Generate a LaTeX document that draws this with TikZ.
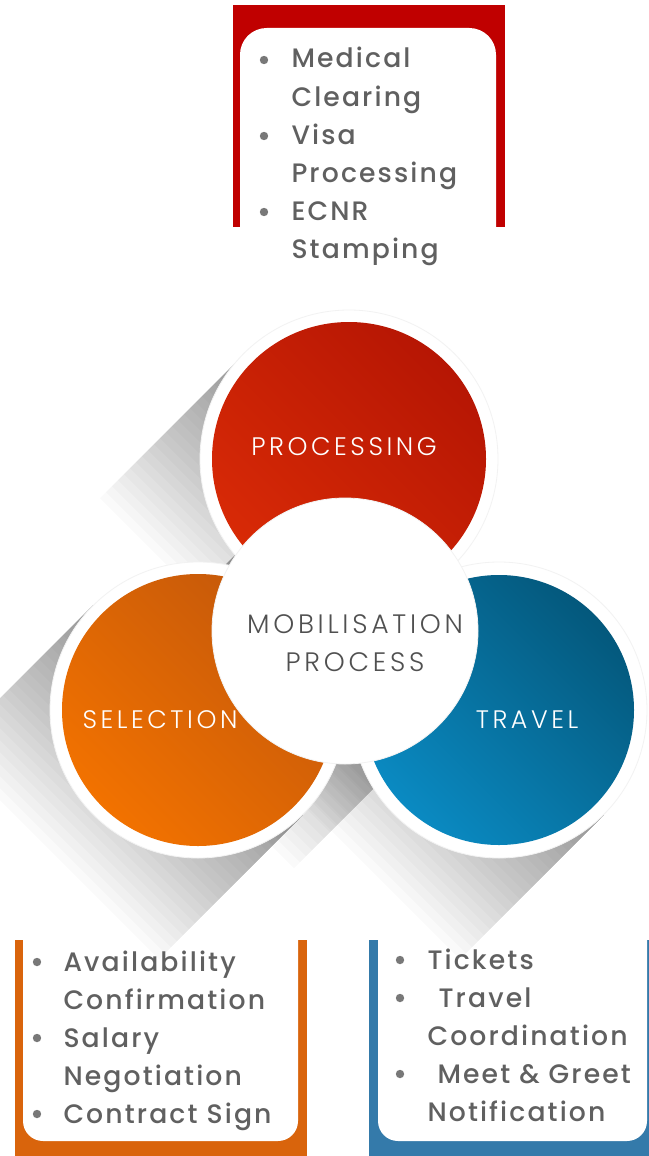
\documentclass[tikz,border=0pt]{standalone}
\usepackage{fontspec}
\setmainfont{Poppins Medium}[LetterSpace=8]
\newfontfamily\labelfont{Poppins Light}[LetterSpace=14]

\definecolor{procred}{RGB}{192,0,0}
\definecolor{selorange}{RGB}{217,100,12}
\definecolor{travblue}{RGB}{52,122,170}
\definecolor{itemgray}{RGB}{96,96,96}
\definecolor{centergray}{RGB}{80,80,80}

% long shadow behind a circle: centre x, centre y, radius/sqrt(2)
\newcommand{\castshadow}[3]{%
  \foreach \d in {6,12,...,144} {%
    \fill[shadowlayer] (#1-#3,#2-#3) -- (#1+#3,#2+#3) -- (#1+#3-\d,#2+#3+\d) -- (#1-#3-\d,#2-#3+\d) -- cycle;
  }}

\tikzset{every picture/.style={line width=0.75pt}}
\tikzset{
  itemtext/.style={anchor=base west, inner sep=0pt, text=itemgray, font=\fontsize{20pt}{28pt}\selectfont},
  bulletdot/.style={fill=itemgray!85},
  circlelabel/.style={anchor=base, inner sep=0pt, text=white, font=\labelfont\fontsize{19pt}{24pt}\selectfont},
  centerlabel/.style={circlelabel, text=centergray, font=\labelfont\fontsize{20pt}{24pt}\selectfont},
  ring/.style={fill=white, draw=black!5, line width=0.6pt},
  shadowlayer/.style={fill=black, fill opacity=0.018},
}

\begin{document}
\begin{tikzpicture}[x=0.75pt,y=0.75pt,yscale=-1,xscale=1]
\useasboundingbox (0,0) rectangle (649,1156);
\fill[white] (0,0) rectangle (649,1156);

%Shape: Top frame (processing list)
\fill[procred] (233,5) rectangle (505,227);
\fill[white, rounded corners=20] (240,260) -- (240,28) -- (496,28) -- (496,260) -- cycle;

%Shape: Bottom left frame (selection list)
\fill[selorange] (15,940) rectangle (307,1156);
\fill[white, rounded corners=15] (23,900) -- (23,1141) -- (298,1141) -- (298,900) -- cycle;

%Shape: Bottom right frame (travel list)
\fill[travblue] (369,940) rectangle (649,1156);
\fill[white, rounded corners=15] (378,900) -- (378,1141) -- (647,1141) -- (647,900) -- cycle;

%Shape: Long shadows
\castshadow{349}{459}{105}
\castshadow{198}{710}{105}
\castshadow{499}{710}{105}
\castshadow{345}{631}{93}

%Shape: Circle processing
\draw[ring] (349,459) circle (149);
\shade[top color={rgb,255:red,182;green,22;blue,4}, bottom color={rgb,255:red,216;green,42;blue,6}, shading angle=-45] (349,459) circle (137);
%Shape: Circle selection
\draw[ring] (198,710) circle (148);
\shade[top color={rgb,255:red,196;green,88;blue,10}, bottom color={rgb,255:red,242;green,114;blue,0}, shading angle=-45] (198,710) circle (136);
%Shape: Circle travel
\draw[ring] (499,710) circle (148);
\shade[top color={rgb,255:red,4;green,88;blue,124}, bottom color={rgb,255:red,10;green,138;blue,194}, shading angle=-45] (499,710) circle (135);
%Shape: Circle centre
\draw[ring] (345,631) circle (133);

% Text Node
\node[circlelabel] (processing) at (344,455) {PROCESSING};
\node[circlelabel] (selection) at (160,728) {SELECTION};
\node[circlelabel] (travel) at (527,728) {TRAVEL};
\node[centerlabel] (mobilisation) at (355,633) {MOBILISATION};
\node[centerlabel] (process) at (355,671) {PROCESS};

% Text Node (top list)
\fill[bulletdot] (264,60) circle (4.2);
\fill[bulletdot] (264,136) circle (4.2);
\fill[bulletdot] (264,212) circle (4.2);
\node[itemtext] (medical) at (291,68) {Medical};
\node[itemtext] (clearing) at (291,106) {Clearing};
\node[itemtext] (visa) at (291,144) {Visa};
\node[itemtext] (visaproc) at (291,182) {Processing};
\node[itemtext] (ecnr) at (291,220) {ECNR};
\node[itemtext] (stamping) at (291,258) {Stamping};

% Text Node (bottom left list)
\fill[bulletdot] (37,962) circle (4.2);
\fill[bulletdot] (37,1038) circle (4.2);
\fill[bulletdot] (37,1114) circle (4.2);
\node[itemtext] (availability) at (63,971) {Availability};
\node[itemtext] (confirmation) at (63,1009) {Confirmation};
\node[itemtext] (salary) at (63,1047) {Salary};
\node[itemtext] (negotiation) at (63,1085) {Negotiation};
\node[itemtext] (contract) at (63,1123) {Contract Sign};

% Text Node (bottom right list)
\fill[bulletdot] (400,960) circle (4.2);
\fill[bulletdot] (400,998) circle (4.2);
\fill[bulletdot] (400,1074) circle (4.2);
\node[itemtext] (tickets) at (427,969) {Tickets};
\node[itemtext] (travelco) at (438,1007) {Travel};
\node[itemtext] (coordination) at (427,1045) {Coordination};
\node[itemtext] (meet) at (437,1083) {Meet \& Greet};
\node[itemtext] (notification) at (427,1121) {Notification};

\end{tikzpicture}
\end{document}
